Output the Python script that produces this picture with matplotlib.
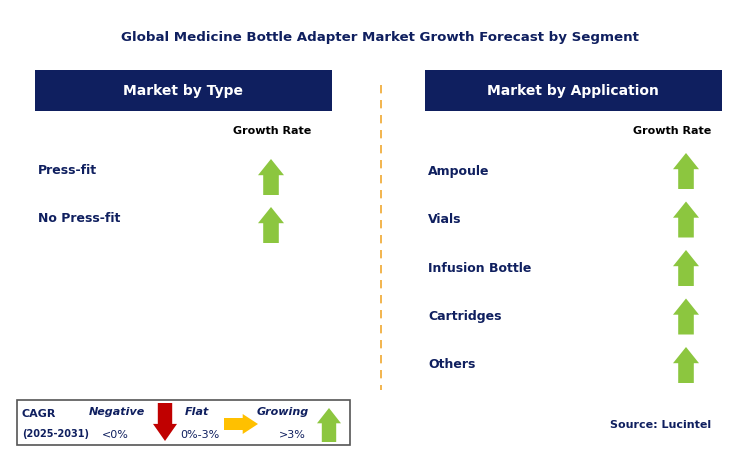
import matplotlib.pyplot as plt
from matplotlib.patches import Rectangle, Polygon

# --- Data ---
title = "Global Medicine Bottle Adapter Market Growth Forecast by Segment"
type_segments = ["Press-fit", "No Press-fit"]
type_growth = ["up", "up"]
app_segments = ["Ampoule", "Vials", "Infusion Bottle", "Cartridges", "Others"]
app_growth = ["up", "up", "up", "up", "up"]

NAVY = "#0f1f5f"
GREEN = "#8cc63f"
RED = "#c00000"
ORANGE = "#ffc000"

fig = plt.figure(figsize=(7.44, 4.55), dpi=100)
ax = fig.add_axes([0, 0, 1, 1])
ax.set_xlim(0, 744)
ax.set_ylim(455, 0)
ax.axis("off")


def arrow(cx, cy, direction, color, length=36, width=26):
    # block arrow centred on (cx, cy)
    hw, sw, hh = width / 2, width * 0.3, length * 0.45
    if direction in ("up", "down"):
        s = -1 if direction == "up" else 1
        tip = cy + s * length / 2
        base = cy - s * length / 2
        neck = tip - s * hh
        pts = [(cx, tip), (cx + hw, neck), (cx + sw, neck), (cx + sw, base),
               (cx - sw, base), (cx - sw, neck), (cx - hw, neck)]
    else:
        tip = cx + length / 2
        base = cx - length / 2
        neck = tip - hh
        pts = [(tip, cy), (neck, cy - hw), (neck, cy - sw), (base, cy - sw),
               (base, cy + sw), (neck, cy + sw), (neck, cy + hw)]
    ax.add_patch(Polygon(pts, closed=True, color=color, lw=0))


ax.text(380, 37, title, ha="center", va="center", fontsize=9.6,
        fontweight="bold", color=NAVY)

# headers
for x0, label in [(35, "Market by Type"), (425, "Market by Application")]:
    ax.add_patch(Rectangle((x0, 70), 297, 41, color=NAVY, lw=0))
    ax.text(x0 + 148, 91, label, ha="center", va="center", fontsize=10,
            fontweight="bold", color="white")

ax.text(272, 131, "Growth Rate", ha="center", va="center", fontsize=8,
        fontweight="bold", color="black")
ax.text(672, 131, "Growth Rate", ha="center", va="center", fontsize=8,
        fontweight="bold", color="black")

colors = {"up": GREEN, "down": RED, "right": ORANGE}
for i, (seg, g) in enumerate(zip(type_segments, type_growth)):
    y = 171 + i * 48
    ax.text(38, y, seg, ha="left", va="center", fontsize=9,
            fontweight="bold", color=NAVY)
    arrow(271, y + 6, g, colors[g])

for i, (seg, g) in enumerate(zip(app_segments, app_growth)):
    y = 171 + i * 48.5
    ax.text(428, y, seg, ha="left", va="center", fontsize=9,
            fontweight="bold", color=NAVY)
    arrow(686, y, g, colors[g])

ax.plot([381, 381], [85, 390], color="#f0a830", lw=1.2, ls=(0, (5, 4)))

# legend box
ax.add_patch(Rectangle((17, 400), 333, 45, fill=False, ec="#555555", lw=1.2))
ax.text(22, 414, "CAGR", fontsize=8, fontweight="bold", color=NAVY, va="center")
ax.text(22, 434, "(2025-2031)", fontsize=7, fontweight="bold", color=NAVY, va="center")
ax.text(117, 412, "Negative", fontsize=8, fontweight="bold", style="italic",
        color=NAVY, ha="center", va="center")
ax.text(115, 435, "<0%", fontsize=8, color=NAVY, ha="center", va="center")
arrow(165, 422, "down", RED, length=38, width=24)
ax.text(197, 412, "Flat", fontsize=8, fontweight="bold", style="italic",
        color=NAVY, ha="center", va="center")
ax.text(200, 435, "0%-3%", fontsize=8, color=NAVY, ha="center", va="center")
arrow(241, 424, "right", ORANGE, length=34, width=20)
ax.text(283, 412, "Growing", fontsize=8, fontweight="bold", style="italic",
        color=NAVY, ha="center", va="center")
ax.text(292, 435, ">3%", fontsize=8, color=NAVY, ha="center", va="center")
arrow(329, 425, "up", GREEN, length=34, width=24)

ax.text(711, 425, "Source: Lucintel", ha="right", va="center", fontsize=8,
        fontweight="bold", color=NAVY)

fig.savefig("out.png", dpi=100)
